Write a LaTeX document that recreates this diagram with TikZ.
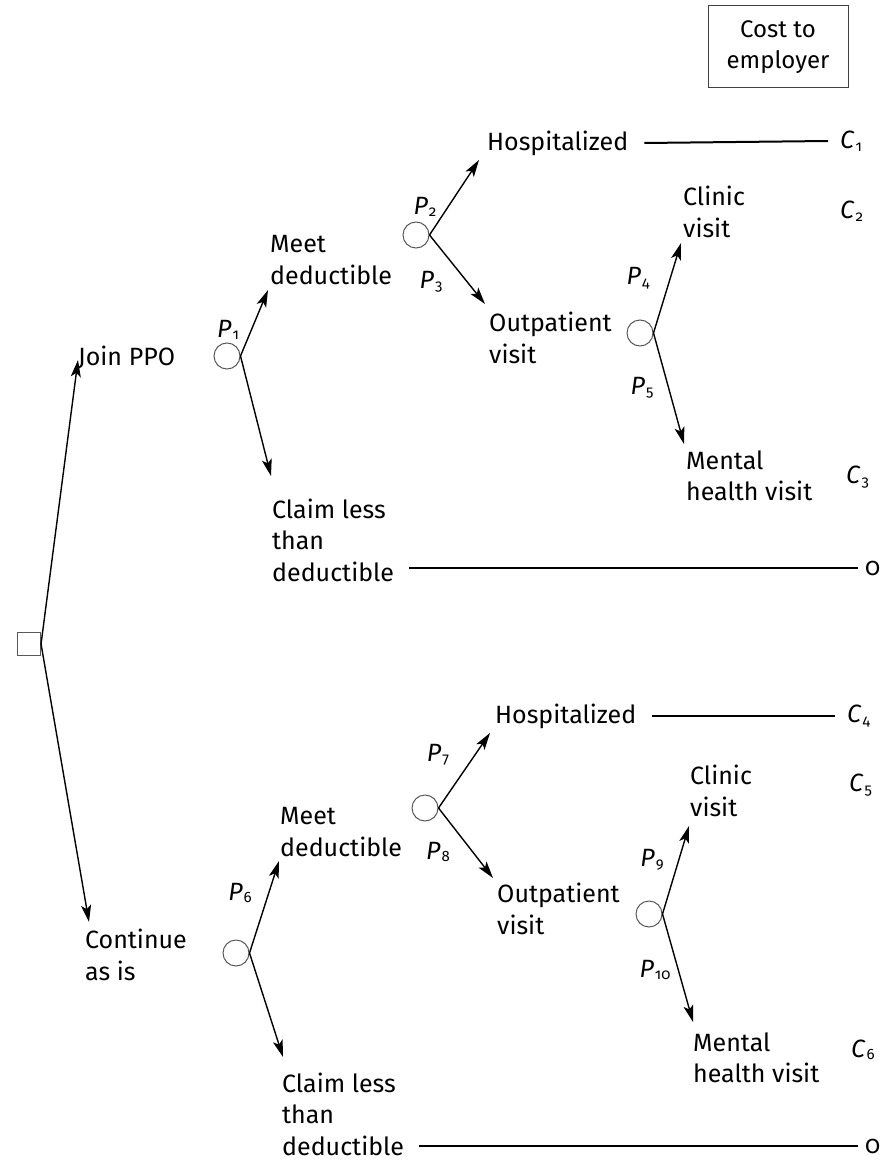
\documentclass[tikz,border=0pt]{standalone}
\usepackage{fontspec}
\setmainfont{Fira Sans}
\newfontfamily\oldnums{Fira Sans}[Numbers=OldStyle]
\usetikzlibrary{arrows.meta,calc}

% italic variable with a small old-style subscript
\newcommand\varsub[2]{\textit{#1}\kern1pt{\oldnums\fontsize{15}{15}\selectfont\raisebox{-2.5pt}{#2}}}

\tikzset{
  lbl/.style={font=\fontsize{25}{31.5}\selectfont, inner sep=0pt, align=left, anchor=west},
  plbl/.style={font=\fontsize{25}{25}\selectfont, inner sep=0pt},
  cost/.style={font=\fontsize{25}{25}\selectfont, inner sep=0pt, anchor=west},
  chance/.style={circle, draw=black!65, line width=1pt, minimum size=26pt, inner sep=0pt},
  decision/.style={rectangle, draw=black!65, line width=1.1pt, minimum size=23pt, inner sep=0pt},
  arr/.style={line width=1.4pt, -{Stealth[length=17pt,width=10pt,inset=4pt]}},
  hline/.style={line width=2pt},
  header/.style={draw=black!75, line width=1pt, font=\fontsize{24}{31.5}\selectfont,
                 align=center, minimum width=140pt, minimum height=82pt, inner sep=0pt}
}

\begin{document}
\begin{tikzpicture}[x=1pt,y=-1pt]
\useasboundingbox (0,0) rectangle (879,1161);

% column header
\node[header] (hdr) at (778,47) {Cost to\\employer};

% decision node
\node[decision] (sq) at (29,644) {};

% chance nodes
\node[chance] (c1) at (227,356) {};
\node[chance] (c2) at (416,235) {};
\node[chance] (c3) at (640,333) {};
\node[chance] (c4) at (236,953) {};
\node[chance] (c5) at (425,808) {};
\node[chance] (c6) at (649,914) {};

% outcome labels, upper branch
\node[lbl] (join)    at (78,357)  {Join PPO};
\node[lbl] (meet1)   at (270,260) {Meet\\deductible};
\node[lbl] (claim1)  at (272,540) {Claim less\\than\\deductible};
\node[lbl] (hosp1)   at (487,143) {Hospitalized};
\node[lbl] (outp1)   at (489,338) {Outpatient\\visit};
\node[lbl] (clinic1) at (683,212) {Clinic\\visit};
\node[lbl] (mental1) at (686,476) {Mental\\health visit};

% outcome labels, lower branch
\node[lbl] (cont)    at (85,955)   {Continue\\as is};
\node[lbl] (meet2)   at (280,832)  {Meet\\deductible};
\node[lbl] (claim2)  at (282,1114) {Claim less\\than\\deductible};
\node[lbl] (hosp2)   at (495,716)  {Hospitalized};
\node[lbl] (outp2)   at (497,909)  {Outpatient\\visit};
\node[lbl] (clinic2) at (690,791)  {Clinic\\visit};
\node[lbl] (mental2) at (693,1058) {Mental\\health visit};

% costs
\node[cost] (k1) at (840,141)  {\varsub{C}{1}};
\node[cost] (k2) at (840,211)  {\varsub{C}{2}};
\node[cost] (k3) at (846,477)  {\varsub{C}{3}};
\node[cost] (z1) at (865,568)  {{\oldnums 0}};
\node[cost] (k4) at (847,716)  {\varsub{C}{4}};
\node[cost] (k5) at (849,785)  {\varsub{C}{5}};
\node[cost] (k6) at (851,1050) {\varsub{C}{6}};
\node[cost] (z2) at (865,1146) {{\oldnums 0}};

% probabilities
\node[plbl] (p1)  at (228,330) {\varsub{P}{1}};
\node[plbl] (p2)  at (425,207) {\varsub{P}{2}};
\node[plbl] (p3)  at (431,282) {\varsub{P}{3}};
\node[plbl] (p4)  at (638,278) {\varsub{P}{4}};
\node[plbl] (p5)  at (642,388) {\varsub{P}{5}};
\node[plbl] (p6)  at (240,893) {\varsub{P}{6}};
\node[plbl] (p7)  at (438,755) {\varsub{P}{7}};
\node[plbl] (p8)  at (438,852) {\varsub{P}{8}};
\node[plbl] (p9)  at (652,860) {\varsub{P}{9}};
\node[plbl] (p10) at (655,970) {\varsub{P}{10}};

% arrow tips next to the outcome labels
\coordinate (tJoin)    at (78,360);
\coordinate (tCont)    at (89,922);
\coordinate (tMeet1)   at (268,290);
\coordinate (tClaim1)  at (271,476);
\coordinate (tHosp1)   at (479,160);
\coordinate (tOutp1)   at (485,304);
\coordinate (tClinic1) at (681,243);
\coordinate (tMental1) at (684,444);
\coordinate (tMeet2)   at (279,861);
\coordinate (tClaim2)  at (283,1057);
\coordinate (tHosp2)   at (490,733);
\coordinate (tOutp2)   at (493,878);
\coordinate (tClinic2) at (689,826);
\coordinate (tMental2) at (693,1022);

% branches
\draw[arr] (sq.east) -- (tJoin);
\draw[arr] (sq.east) -- (tCont);
\draw[arr] (c1.east) -- (tMeet1);
\draw[arr] (c1.east) -- (tClaim1);
\draw[arr] (c2.east) -- (tHosp1);
\draw[arr] (c2.east) -- (tOutp1);
\draw[arr] (c3.east) -- (tClinic1);
\draw[arr] (c3.east) -- (tMental1);
\draw[arr] (c4.east) -- (tMeet2);
\draw[arr] (c4.east) -- (tClaim2);
\draw[arr] (c5.east) -- (tHosp2);
\draw[arr] (c5.east) -- (tOutp2);
\draw[arr] (c6.east) -- (tClinic2);
\draw[arr] (c6.east) -- (tMental2);

% terminal lines to the cost column
\draw[hline] ($(hosp1.east)+(16,0)$) -- ($(k1.west)+(-12,0)$);
\draw[hline] ($(claim1.east |- z1.west)+(15,0)$) -- ($(z1.west)+(-7,0)$);
\draw[hline] ($(hosp2.east)+(16,0)$) -- ($(k4.west)+(-12,0)$);
\draw[hline] ($(claim2.east |- z2.west)+(15,0)$) -- ($(z2.west)+(-7,0)$);
\end{tikzpicture}
\end{document}
